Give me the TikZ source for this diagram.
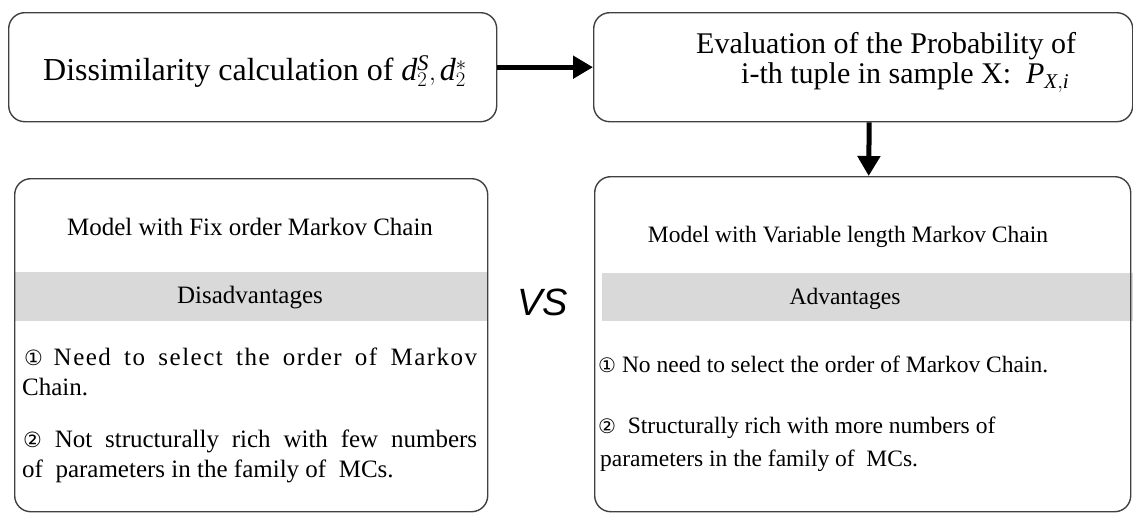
\documentclass[tikz,border=0pt]{standalone}
\usepackage{fontspec}
\setmainfont{Liberation Serif}
\newfontfamily\symfont{DejaVu Sans}
\newfontfamily\vsfont{Liberation Sans}
\usetikzlibrary{arrows.meta}
\newcommand{\cnum}[1]{{\symfont\fontsize{21}{25}\selectfont #1}}
\newcommand{\cnumr}[1]{{\symfont\fontsize{20}{24}\selectfont #1}}
\begin{document}
\begin{tikzpicture}[x=1pt,y=-1pt,
  box/.style={draw=black!75, line width=1.4pt, rounded corners=16pt, anchor=north west, inner sep=0pt},
  band/.style={fill=black!15, draw=none, anchor=north west, inner sep=0pt},
  arr/.style={-{Triangle[length=20pt,width=22pt]}, line width=5pt},
  txt/.style={anchor=base west, inner sep=0pt},
  ctxt/.style={anchor=base, inner sep=0pt},
  big/.style={font=\fontsize{30}{36}\selectfont},
  mid/.style={font=\fontsize{25}{30}\selectfont},
  sml/.style={font=\fontsize{23.5}{28}\selectfont},
]
\useasboundingbox (0,0) rectangle (1133,514);
% grey bands
\node[band, minimum width=473pt, minimum height=49pt] (g3) at (14,272) {};
\node[band, minimum width=531pt, minimum height=48pt] (g4) at (602,273) {};
% boxes
\node[box, minimum width=488pt, minimum height=109pt] (b1) at (8,12) {};
\node[box, minimum width=539pt, minimum height=109pt] (b2) at (593,12) {};
\node[box, minimum width=473pt, minimum height=333pt] (b3) at (14,178) {};
\node[box, minimum width=536pt, minimum height=335pt] (b4) at (594,176) {};
% arrows
\draw[arr] (b1.east) -- (b2.west);
\draw[arr] ([xshift=6pt]b2.south) -- ([xshift=6pt]b4.north);
% box 1
\node[txt, font=\fontsize{32}{36}\selectfont] (t1) at (43,80) {Dissimilarity calculation of $\mathit{d}_{2}^{\mathit{S}}\mathrm{,}\,\mathit{d}_{2}^{*}$};
% box 2
\node[txt, big] (t2a) at (696,53) {Evaluation of the Probability of};
\node[txt, big] (t2b) at (741,83) {i-th tuple in sample X:\ \ $\mathit{P}_{\mathit{X},\mathit{i}}$};
% box 3
\node[ctxt, mid] (t3) at (250,235) {Model with Fix order Markov Chain};
\node[ctxt, mid] (t3h) at (250,303) {Disadvantages};
\node[txt, mid] (t3a) at (24,365) {\makebox[453pt][s]{\cnum{①} \addfontfeature{LetterSpace=6}Need to select the order of Markov}};
\node[txt, mid] (t3b) at (22,395) {Chain.};
\node[txt, mid] (t3c) at (23,447) {\makebox[454pt][s]{\cnum{②} Not structurally rich with few numbers}};
\node[txt, mid] (t3d) at (22,477) {of\ \ parameters in the family of\ \ MCs.};
% VS
\node[txt, font=\vsfont\itshape\fontsize{38}{40}\selectfont] (vs) at (517,315) {VS};
% box 4
\node[ctxt, sml] (t4) at (848,242) {Model with Variable length Markov Chain};
\node[ctxt, sml] (t4h) at (845,304) {Advantages};
\node[txt, sml] (t4a) at (598,372) {\cnumr{①} No need to select the order of Markov Chain.};
\node[txt, sml] (t4b) at (598,433) {\cnumr{②}\ \ Structurally rich with more numbers of};
\node[txt, sml] (t4c) at (600,466) {parameters in the family of\ \ MCs.};
\end{tikzpicture}
\end{document}
